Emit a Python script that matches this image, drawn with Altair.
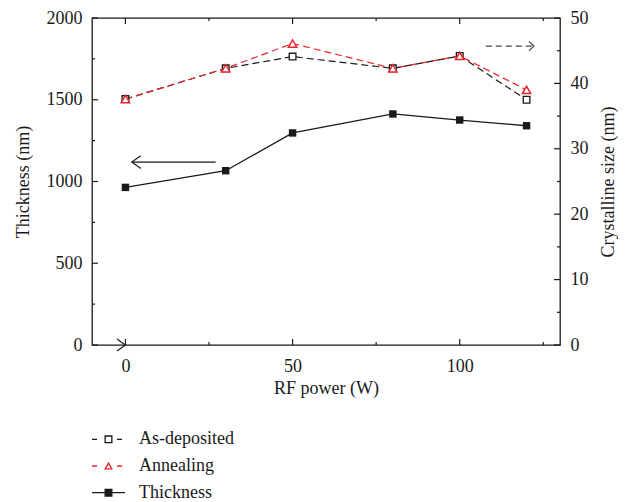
import altair as alt
import pandas as pd

# ---- data ----
power = [0, 30, 50, 80, 100, 120]
thickness = [964, 1066, 1297, 1413, 1376, 1341]
as_deposited = [37.6, 42.3, 44.1, 42.3, 44.2, 37.5]
annealing = [37.6, 42.3, 46.1, 42.3, 44.2, 39.0]

series_names = ["As-deposited", "Annealing", "Thickness"]

x_major = [0, 50, 100]
x_minor = [25, 75, 125]
thick_major = [0, 500, 1000, 1500, 2000]
thick_minor = [250, 750, 1250, 1750]
size_major = [0, 10, 20, 30, 40, 50]
size_minor = [5, 15, 25, 35, 45]

X_DOMAIN = [-10, 130]
T_DOMAIN = [0, 2000]
S_DOMAIN = [0, 50]

# annotation arrows (data coordinates)
left_arrow = {"from": 27.0, "to": 1.9, "y": 1119}
right_arrow = {"from": 107.8, "to": 122.2, "y": 45.7}

FONT = "'Liberation Serif', 'Times New Roman', serif"
INK = "#1a1a1a"
RED = "#e8262b"

# ---- scales / axes ----
xscale = alt.Scale(domain=X_DOMAIN, nice=False, zero=False)
tscale = alt.Scale(domain=T_DOMAIN, nice=False, zero=False)
sscale = alt.Scale(domain=S_DOMAIN, nice=False, zero=False)

x_axis = alt.Axis(values=x_major, title="RF power (W)", ticks=False, tickSize=0, format="d",
                  domain=False, grid=False, labelPadding=12, titlePadding=4)
t_axis = alt.Axis(values=thick_major, title="Thickness (nm)", ticks=False, tickSize=0, format="d",
                  domain=False, grid=False, labelPadding=10, titlePadding=14)
s_axis = alt.Axis(values=size_major, title="Crystalline size (nm)", orient="right", format="d",
                  ticks=False, tickSize=0, domain=False, grid=False,
                  labelPadding=10, titlePadding=11, titleAngle=270, titleBaseline="top")


def X(field="power"):
    return alt.X(f"{field}:Q", scale=xscale, axis=x_axis)


def YT(field="thick"):
    return alt.Y(f"{field}:Q", scale=tscale, axis=t_axis)


def YS(field="size"):
    return alt.Y(f"{field}:Q", scale=sscale, axis=s_axis)


# ---- tables ----
thick_df = pd.DataFrame({"power": power, "thick": thickness})
dep_df = pd.DataFrame({"power": power, "size": as_deposited})
ann_df = pd.DataFrame({"power": power, "size": annealing})

# ---- thickness group ----
thick_line = alt.Chart(thick_df).mark_line(color=INK, strokeWidth=1.3).encode(x=X(), y=YT())
thick_pts = alt.Chart(thick_df).mark_point(shape="square", filled=True, color=INK, size=55,
                                           opacity=1).encode(x=X(), y=YT())


def ticks_h(values, xval, length, yfun, direction):
    df = pd.DataFrame({"power": [xval] * len(values), "v": values})
    return alt.Chart(df).mark_tick(orient="horizontal", size=length, thickness=1.2,
                                   color=INK, xOffset=direction * length / 2,
                                   opacity=1).encode(x=X(), y=yfun("v"))


def ticks_v(values, yval, length, yfun, direction):
    df = pd.DataFrame({"power": values, "v": [yval] * len(values)})
    return alt.Chart(df).mark_tick(orient="vertical", size=length, thickness=1.2,
                                   color=INK, yOffset=direction * length / 2,
                                   opacity=1).encode(x=X(), y=yfun("v"))


left_ticks = [ticks_h(thick_major, X_DOMAIN[0], 6, YT, 1),
              ticks_h(thick_minor, X_DOMAIN[0], 3, YT, 1)]
bottom_ticks = [ticks_v(x_major, T_DOMAIN[0], 6, YT, -1),
                ticks_v(x_minor, T_DOMAIN[0], 3, YT, -1)]
top_ticks = [ticks_v(x_major, T_DOMAIN[1], 6, YT, 1),
             ticks_v(x_minor, T_DOMAIN[1], 3, YT, 1)]
right_ticks = [ticks_h(size_major, X_DOMAIN[1], 6, YS, -1),
               ticks_h(size_minor, X_DOMAIN[1], 3, YS, -1)]

# left solid arrow (thickness units)
la_df = pd.DataFrame({"power": [left_arrow["from"]], "power2": [left_arrow["to"]],
                      "thick": [left_arrow["y"]]})
la_shaft = alt.Chart(la_df).mark_rule(color=INK, strokeWidth=1.2).encode(
    x=X(), x2=alt.X2("power2:Q"), y=YT())
la_head_df = pd.DataFrame({"power": [left_arrow["to"] + 2.7, left_arrow["to"], left_arrow["to"] + 2.7],
                           "thick": [left_arrow["y"] + 39, left_arrow["y"], left_arrow["y"] - 39],
                           "o": [0, 1, 2]})
la_head = alt.Chart(la_head_df).mark_line(color=INK, strokeWidth=1.2).encode(
    x=X(), y=YT(), order="o:Q")

# chevron at the origin
og_df = pd.DataFrame({"power": [-2.5, 0, -2.5], "thick": [37, 0, -37], "o": [0, 1, 2]})
og_head = alt.Chart(og_df).mark_line(color=INK, strokeWidth=1.2).encode(
    x=X(), y=YT(), order="o:Q")

thick_group = alt.layer(thick_line, thick_pts, *left_ticks, *bottom_ticks, *top_ticks,
                        la_shaft, la_head, og_head)

# ---- crystalline size group ----
dep_line = alt.Chart(dep_df).mark_line(color=INK, strokeWidth=1.2, strokeDash=[7, 4]).encode(
    x=X(), y=YS())
ann_line = alt.Chart(ann_df).mark_line(color=RED, strokeWidth=1.2, strokeDash=[7, 4]).encode(
    x=X(), y=YS())
dep_pts = alt.Chart(dep_df).mark_point(shape="square", filled=True, fill="white", stroke=INK,
                                       strokeWidth=1.3, size=45, opacity=1).encode(x=X(), y=YS())
ann_pts = alt.Chart(ann_df).mark_point(shape="triangle-up", filled=True, fill="white", stroke=RED,
                                       strokeWidth=1.5, size=70, opacity=1).encode(x=X(), y=YS())

ra_df = pd.DataFrame({"power": [right_arrow["from"]], "power2": [right_arrow["to"]],
                      "size": [right_arrow["y"]]})
ra_shaft = alt.Chart(ra_df).mark_rule(color="#444444", strokeWidth=1.4, strokeDash=[6, 4]).encode(
    x=X(), x2=alt.X2("power2:Q"), y=YS())
ra_head_df = pd.DataFrame({"power": [right_arrow["to"] - 1.5, right_arrow["to"], right_arrow["to"] - 1.5],
                           "size": [right_arrow["y"] + 0.72, right_arrow["y"], right_arrow["y"] - 0.72],
                           "o": [0, 1, 2]})
ra_head = alt.Chart(ra_head_df).mark_line(color="#444444", strokeWidth=1.2).encode(
    x=X(), y=YS(), order="o:Q")

size_group = alt.layer(dep_line, ann_line, dep_pts, ann_pts, *right_ticks, ra_shaft, ra_head)

top = alt.layer(thick_group, size_group).resolve_scale(y="independent").properties(
    width=468, height=327, view=alt.ViewBackground(stroke=INK, strokeWidth=1.3))

# ---- legend panel ----
legend_df = pd.DataFrame({"name": series_names, "row": [0, 1, 2]})
lx = alt.Scale(domain=[0, 200], nice=False, zero=False)
ly = alt.Scale(domain=[2.5, -0.5], nice=False, zero=False)
name_color = alt.Scale(domain=series_names, range=[INK, RED, INK])
name_fill = alt.Scale(domain=series_names, range=["white", "white", INK])
name_shape = alt.Scale(domain=series_names, range=["square", "triangle-up", "square"])
name_dash = alt.Scale(domain=series_names, range=[[5, 20], [5, 20], [1, 0]])

lbase = alt.Chart(legend_df).transform_calculate(x0="0", x1="33", xs="16.5", xt="47")
lseg = lbase.mark_rule(strokeWidth=1.3).encode(
    x=alt.X("x0:Q", scale=lx, axis=None), x2="x1:Q",
    y=alt.Y("row:Q", scale=ly, axis=None),
    color=alt.Color("name:N", scale=name_color, legend=None),
    strokeDash=alt.StrokeDash("name:N", scale=name_dash, legend=None))
lpts = lbase.mark_point(filled=True, strokeWidth=1.3, size=45, opacity=1).encode(
    x=alt.X("xs:Q", scale=lx, axis=None),
    y=alt.Y("row:Q", scale=ly, axis=None),
    stroke=alt.Stroke("name:N", scale=name_color, legend=None),
    fill=alt.Fill("name:N", scale=name_fill, legend=None),
    shape=alt.Shape("name:N", scale=name_shape, legend=None))
ltxt = lbase.mark_text(align="left", baseline="middle", font=FONT, fontSize=18, color=INK).encode(
    x=alt.X("xt:Q", scale=lx, axis=None),
    y=alt.Y("row:Q", scale=ly, axis=None),
    text="name:N")
legend = alt.layer(lseg, lpts, ltxt).properties(
    width=200, height=80, view=alt.ViewBackground(stroke="transparent"))

chart = alt.vconcat(top, legend, spacing=27).configure(
    padding={"left": 5, "top": 0, "right": 0, "bottom": 0}
).configure_axis(
    labelFont=FONT, titleFont=FONT, labelFontSize=18, titleFontSize=18,
    labelColor=INK, titleColor=INK, titleFontWeight="normal"
)

chart.save("out.html", embed_options={"renderer": "svg", "actions": False})
